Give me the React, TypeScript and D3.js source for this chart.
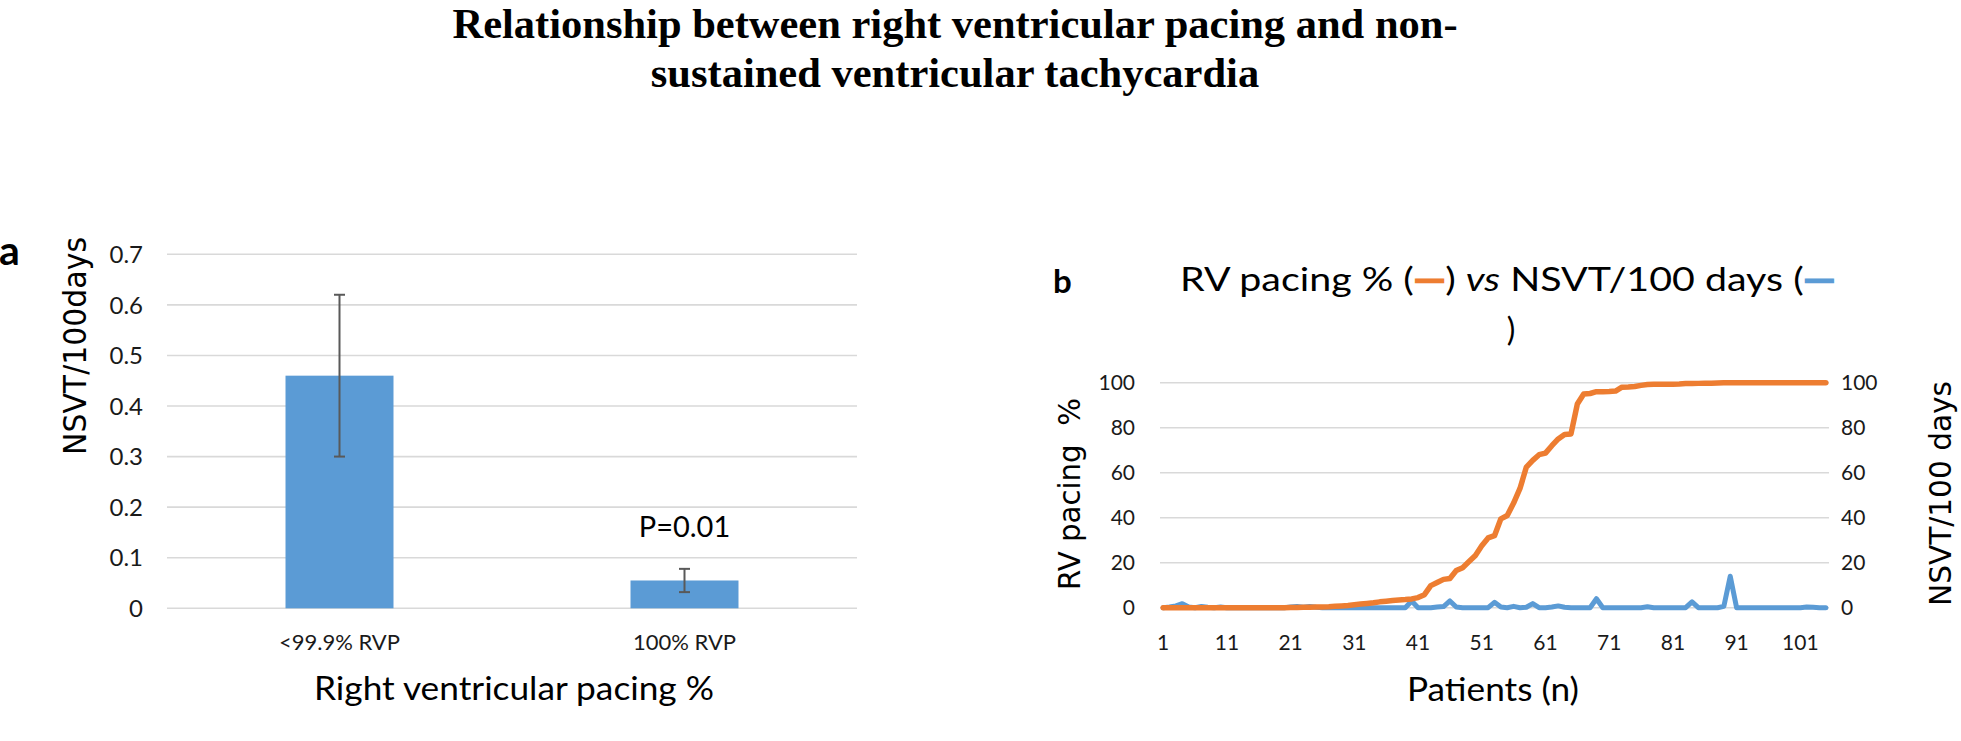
import { useRef, useEffect } from 'react';
import * as d3 from 'd3';

// Panel titles
const titleLines = [
  'Relationship between right ventricular pacing and non-',
  'sustained ventricular tachycardia',
];

// Panel a: bar chart
const barCategories = ['<99.9% RVP', '100% RVP'];
const barMeans = [0.46, 0.055];
const barErrors = [0.16, 0.023];
const barTicks = [0, 0.1, 0.2, 0.3, 0.4, 0.5, 0.6, 0.7];

// Panel b: per patient series (sorted by RV pacing)
const rvPacing = [
  0, 0, 0, 0, 0, 0, 0, 0, 0, 0,
  0, 0, 0, 0, 0, 0, 0, 0, 0, 0,
  0.1, 0.1, 0.2, 0.2, 0.3, 0.3, 0.4, 0.6, 0.8, 1.0,
  1.3, 1.6, 1.9, 2.2, 2.6, 2.9, 3.2, 3.4, 3.6, 3.9,
  4.5, 5.8, 9.8, 11.2, 12.6, 13.0, 16.5, 17.8, 20.5, 23.2,
  27.5, 31, 32, 39.5, 41, 46.5, 53, 62.5, 65.5, 68,
  68.7, 72, 75, 77, 77.2, 90.5, 95, 95.2, 96, 96,
  96.1, 96.3, 98, 98.1, 98.3, 98.8, 99.2, 99.3, 99.3, 99.3,
  99.3, 99.4, 99.6, 99.6, 99.7, 99.8, 99.8, 99.9, 100, 100,
  100, 100, 100, 100, 100, 100, 100, 100, 100, 100,
  100, 100, 100, 100, 100,
];
const nsvtRate = [
  0, 0.3, 0.8, 1.8, 0.3, 0, 0.5, 0.2, 0, 0.3,
  0, 0, 0, 0, 0, 0, 0, 0, 0, 0,
  0.3, 0.5, 0.2, 0.5, 0.2, 0, 0, 0, 0, 0,
  0, 0, 0, 0, 0, 0, 0, 0, 0, 3,
  0, 0, 0, 0.3, 0.5, 3, 0.3, 0, 0, 0,
  0, 0, 2.4, 0.3, 0, 0.6, 0, 0.2, 1.8, 0,
  0, 0.3, 0.8, 0.2, 0, 0, 0, 0, 4, 0,
  0, 0, 0, 0, 0, 0, 0.4, 0, 0, 0,
  0, 0, 0, 2.6, 0, 0, 0, 0, 0.6, 14,
  0, 0, 0, 0, 0, 0, 0, 0, 0, 0,
  0, 0.3, 0.2, 0, 0,
];
const patientTicks = [1, 11, 21, 31, 41, 51, 61, 71, 81, 91, 101];
const lineTicks = [0, 20, 40, 60, 80, 100];

const ORANGE = '#ED7D31';
const BLUE = '#5B9BD5';
const GRID = '#D9D9D9';
const SANS = 'Lato, "Open Sans", sans-serif';
const WIDE = '"DejaVu Sans", Verdana, sans-serif';

export default function App() {
  const svgRef = useRef(null);

  useEffect(() => {
    const svg = d3.select(svgRef.current);
    svg.selectAll('*').remove();

    // main title
    svg
      .append('g')
      .selectAll('text')
      .data(titleLines)
      .join('text')
      .attr('x', 955)
      .attr('y', (_d, i) => 38 + i * 49)
      .attr('text-anchor', 'middle')
      .attr('font-family', '"Liberation Serif", "Times New Roman", serif')
      .attr('font-weight', 'bold')
      .attr('font-size', 42.5)
      .text((d) => d);

    // ---------- panel a ----------
    const xa = d3
      .scaleBand()
      .domain(barCategories)
      .range([167, 857])
      .paddingInner(0.687)
      .paddingOuter(0.3435);
    const ya = d3.scaleLinear().domain([0, 0.7]).range([608.3, 254.3]);

    const ga = svg.append('g');
    ga.selectAll('line.grid')
      .data(barTicks)
      .join('line')
      .attr('x1', 167)
      .attr('x2', 857)
      .attr('y1', (d) => ya(d))
      .attr('y2', (d) => ya(d))
      .attr('stroke', GRID)
      .attr('stroke-width', 1.6);

    ga.selectAll('text.tick')
      .data(barTicks)
      .join('text')
      .attr('x', 143)
      .attr('y', (d) => ya(d))
      .attr('dy', '0.36em')
      .attr('text-anchor', 'end')
      .attr('font-family', SANS)
      .attr('font-size', 24)
      .attr('fill', '#1a1a1a')
      .text((d) => `${d}`);

    ga.selectAll('rect')
      .data(barCategories)
      .join('rect')
      .attr('x', (d) => xa(d))
      .attr('width', xa.bandwidth())
      .attr('y', (_d, i) => ya(barMeans[i]))
      .attr('height', (_d, i) => ya(0) - ya(barMeans[i]))
      .attr('fill', BLUE);

    barCategories.forEach((c, i) => {
      const cx = xa(c) + xa.bandwidth() / 2;
      const hi = ya(barMeans[i] + barErrors[i]);
      const lo = ya(barMeans[i] - barErrors[i]);
      const eb = ga.append('g').attr('stroke', '#595959').attr('stroke-width', 2);
      eb.append('line').attr('x1', cx).attr('x2', cx).attr('y1', hi).attr('y2', lo);
      eb.append('line').attr('x1', cx - 5.5).attr('x2', cx + 5.5).attr('y1', hi).attr('y2', hi);
      eb.append('line').attr('x1', cx - 5.5).attr('x2', cx + 5.5).attr('y1', lo).attr('y2', lo);
    });

    ga.selectAll('text.cat')
      .data(barCategories)
      .join('text')
      .attr('x', (d) => xa(d) + xa.bandwidth() / 2)
      .attr('y', 650)
      .attr('text-anchor', 'middle')
      .attr('font-family', SANS)
      .attr('font-size', 22)
      .attr('fill', '#1a1a1a')
      .text((d) => d);

    ga.append('text')
      .attr('x', xa(barCategories[1]) + xa.bandwidth() / 2)
      .attr('y', 536.7)
      .attr('text-anchor', 'middle')
      .attr('font-family', SANS)
      .attr('font-size', 29)
      .text('P=0.01');

    ga.append('text')
      .attr('x', 314)
      .attr('y', 700)
      .attr('font-family', SANS)
      .attr('font-size', 32)
      .attr('textLength', 400)
      .attr('lengthAdjust', 'spacingAndGlyphs')
      .text('Right ventricular pacing %');

    ga.append('text')
      .attr('transform', 'translate(86,346) rotate(-90)')
      .attr('text-anchor', 'middle')
      .attr('font-family', WIDE)
      .attr('font-size', 32)
      .attr('textLength', 218)
      .attr('lengthAdjust', 'spacingAndGlyphs')
      .text('NSVT/100days');

    ga.append('text')
      .attr('x', -1)
      .attr('y', 265)
      .attr('font-family', SANS)
      .attr('font-weight', 'bold')
      .attr('font-size', 41)
      .text('a');

    // ---------- panel b ----------
    const patients = d3.range(1, rvPacing.length + 1);
    const xb = d3.scaleBand().domain(patients).range([1160, 1829]);
    const px = (p) => xb(p) + xb.bandwidth() / 2;
    const yb = d3.scaleLinear().domain([0, 100]).range([607.7, 382.7]);

    const gb = svg.append('g');
    gb.selectAll('line.grid')
      .data(lineTicks)
      .join('line')
      .attr('x1', 1160)
      .attr('x2', 1829)
      .attr('y1', (d) => yb(d))
      .attr('y2', (d) => yb(d))
      .attr('stroke', GRID)
      .attr('stroke-width', 1.6);

    [
      { x: 1135, anchor: 'end' },
      { x: 1841, anchor: 'start' },
    ].forEach((side) => {
      gb.append('g')
        .selectAll('text')
        .data(lineTicks)
        .join('text')
        .attr('x', side.x)
        .attr('y', (d) => yb(d))
        .attr('dy', '0.36em')
        .attr('text-anchor', side.anchor)
        .attr('font-family', SANS)
        .attr('font-size', 21)
        .attr('fill', '#1a1a1a')
        .text((d) => `${d}`);
    });

    gb.append('g')
      .selectAll('text')
      .data(patientTicks)
      .join('text')
      .attr('x', (d) => px(d))
      .attr('y', 650)
      .attr('text-anchor', 'middle')
      .attr('font-family', SANS)
      .attr('font-size', 21)
      .attr('fill', '#1a1a1a')
      .text((d) => `${d}`);

    const line = d3
      .line<number>()
      .x((_d, i) => px(patients[i]))
      .y((d) => yb(d));

    gb.append('path')
      .datum(nsvtRate)
      .attr('d', line)
      .attr('fill', 'none')
      .attr('stroke', BLUE)
      .attr('stroke-width', 5)
      .attr('stroke-linejoin', 'round')
      .attr('stroke-linecap', 'round');

    gb.append('path')
      .datum(rvPacing)
      .attr('d', line)
      .attr('fill', 'none')
      .attr('stroke', ORANGE)
      .attr('stroke-width', 5.5)
      .attr('stroke-linejoin', 'round')
      .attr('stroke-linecap', 'round');

    // title with legend keys
    const t = gb
      .append('text')
      .attr('x', 1180)
      .attr('y', 291)
      .attr('font-family', SANS)
      .attr('font-size', 32)
      .attr('textLength', 655)
      .attr('lengthAdjust', 'spacingAndGlyphs');
    t.append('tspan').text('RV pacing % (');
    t.append('tspan')
      .attr('fill', ORANGE)
      .attr('stroke', ORANGE)
      .attr('stroke-width', 2.5)
      .text('\u2014');
    t.append('tspan').text(') ');
    t.append('tspan').attr('font-style', 'italic').text('vs');
    t.append('tspan').text(' NSVT/100 days (');
    t.append('tspan')
      .attr('fill', BLUE)
      .attr('stroke', BLUE)
      .attr('stroke-width', 2.5)
      .text('\u2014');
    gb.append('text')
      .attr('x', 1511)
      .attr('y', 341)
      .attr('text-anchor', 'middle')
      .attr('font-family', SANS)
      .attr('font-size', 32)
      .text(')');

    gb.append('text')
      .attr('x', 1493)
      .attr('y', 700.7)
      .attr('text-anchor', 'middle')
      .attr('font-family', SANS)
      .attr('font-size', 33)
      .attr('textLength', 172)
      .attr('lengthAdjust', 'spacingAndGlyphs')
      .text('Patients (n)');

    gb.append('text')
      .attr('transform', 'translate(1080,494) rotate(-90)')
      .attr('text-anchor', 'middle')
      .attr('font-family', WIDE)
      .attr('font-size', 30)
      .attr('textLength', 192)
      .attr('lengthAdjust', 'spacingAndGlyphs')
      .style('white-space', 'pre')
      .text('RV pacing  %');

    gb.append('text')
      .attr('transform', 'translate(1951,493.5) rotate(-90)')
      .attr('text-anchor', 'middle')
      .attr('font-family', WIDE)
      .attr('font-size', 30)
      .attr('textLength', 225)
      .attr('lengthAdjust', 'spacingAndGlyphs')
      .text('NSVT/100 days');

    gb.append('text')
      .attr('x', 1053)
      .attr('y', 293)
      .attr('font-family', SANS)
      .attr('font-weight', 'bold')
      .attr('font-size', 33)
      .text('b');
  }, []);

  return (
    <svg
      ref={svgRef}
      width={1961}
      height={741}
      style={{ position: 'absolute', left: 0, top: 0, background: '#fff' }}
    />
  );
}
